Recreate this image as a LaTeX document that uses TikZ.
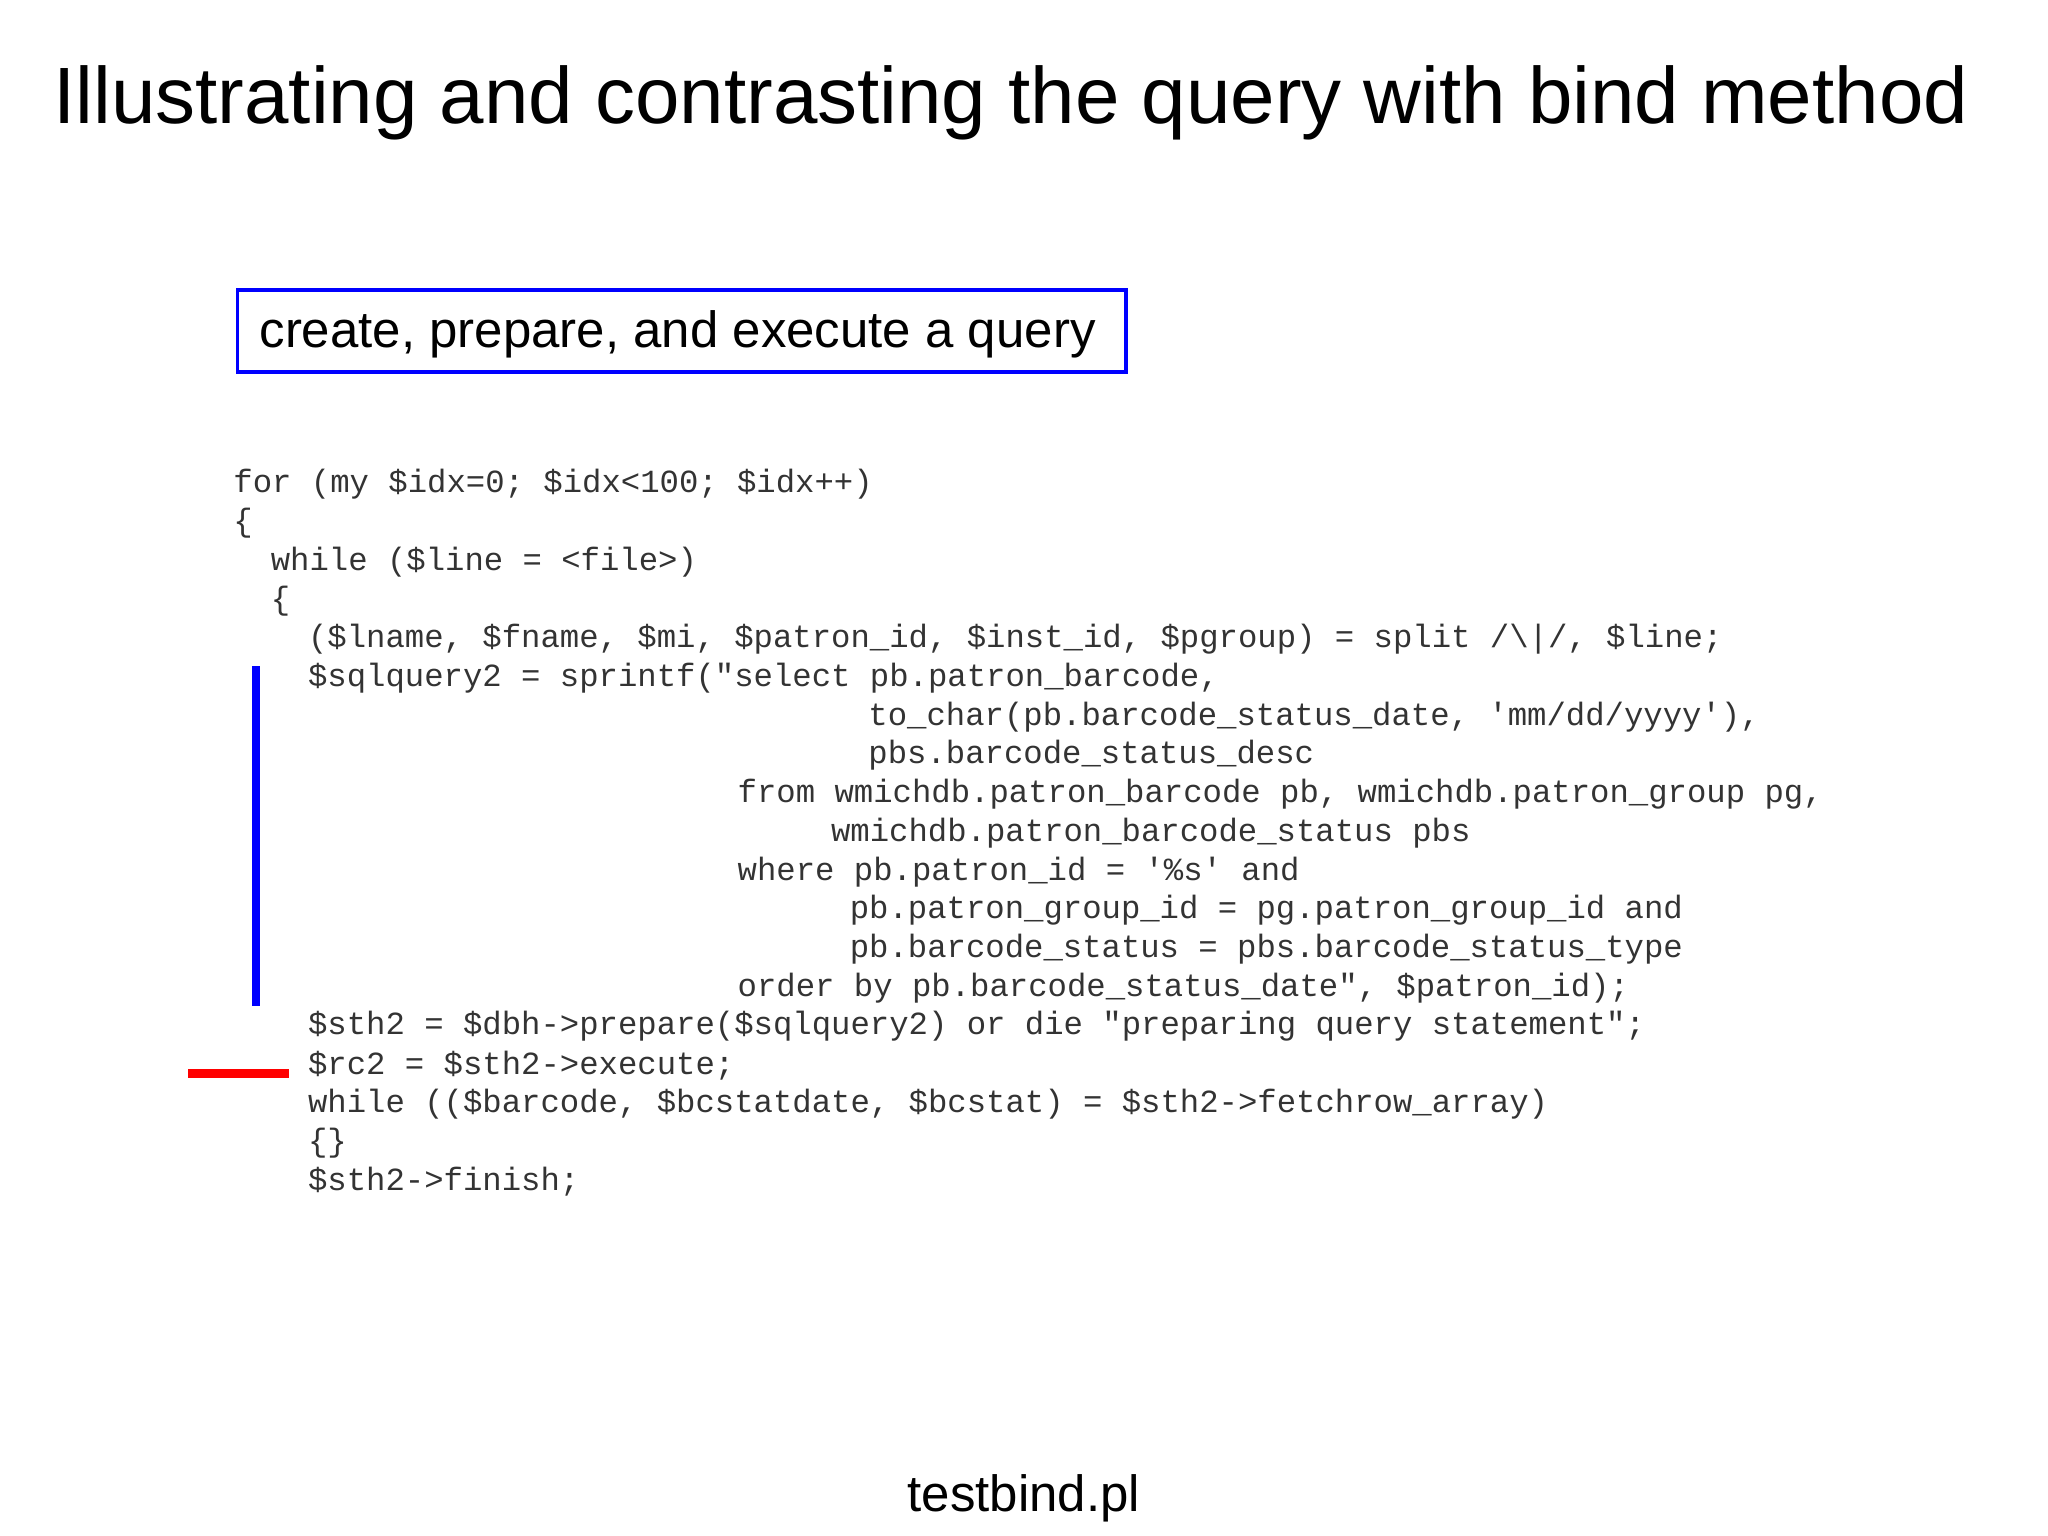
\documentclass[tikz,border=0pt]{standalone}
\usepackage{fontspec}
\setmainfont{Liberation Sans}
\setmonofont{Liberation Mono}
\begin{document}
\begin{tikzpicture}[x=0.01cm,y=-0.01cm,
  code/.style={anchor=west,inner sep=0pt,font=\fontsize{7.03pt}{8pt}\ttfamily,text=black!80},
  label/.style={font=\fontsize{11.1pt}{13pt}\selectfont}]
\useasboundingbox (0,0) rectangle (1568,1176);
\node[font=\fontsize{17.4pt}{20pt}\selectfont] (title) at (774,79) {Illustrating and contrasting the query with bind method};
\node[draw=blue,line width=0.8pt,minimum width=6.8cm,minimum height=0.63cm,inner sep=0pt] (box) at (522,253.5) {};
\node[label,anchor=west,inner sep=0pt] (boxtext) at (198,256) {create, prepare, and execute a query};
\def\cw{14.3}
\newcommand\cl[3]{\node[code] (#1) at ({178+#2*\cw},#1*29.64+371) {#3};}
\cl{0}{0}{for (my \$idx=0; \$idx<100; \$idx++)}
\cl{1}{0}{\{}
\cl{2}{2}{while (\$line = <file>)}
\cl{3}{2}{\{}
\cl{4}{4}{(\$lname, \$fname, \$mi, \$patron\_id, \$inst\_id, \$pgroup) = split /\textbackslash|/, \$line;}
\cl{5}{4}{\$sqlquery2 = sprintf("select pb.patron\_barcode,}
\cl{6}{34}{to\_char(pb.barcode\_status\_date, 'mm/dd/yyyy'),}
\cl{7}{34}{pbs.barcode\_status\_desc}
\cl{8}{27}{from wmichdb.patron\_barcode pb, wmichdb.patron\_group pg,}
\cl{9}{32}{wmichdb.patron\_barcode\_status pbs}
\cl{10}{27}{where pb.patron\_id = '\%s' and}
\cl{11}{33}{pb.patron\_group\_id = pg.patron\_group\_id and}
\cl{12}{33}{pb.barcode\_status = pbs.barcode\_status\_type}
\cl{13}{27}{order by pb.barcode\_status\_date", \$patron\_id);}
\cl{14}{4}{\$sth2 = \$dbh->prepare(\$sqlquery2) or die "preparing query statement";}
\cl{15}{4}{\$rc2 = \$sth2->execute;}
\cl{16}{4}{while ((\$barcode, \$bcstatdate, \$bcstat) = \$sth2->fetchrow\_array)}
\cl{17}{4}{\{\}}
\cl{18}{4}{\$sth2->finish;}
\coordinate (b1) at (196,510); \coordinate (b2) at (196,770);
\draw[blue,line width=1.6pt] (b1) -- (b2);
\coordinate (r1) at (144,822); \coordinate (r2) at (221,822);
\draw[red,line width=1.8pt] (r1) -- (r2);
\node[label] (file) at (784,1147) {testbind.pl};
\end{tikzpicture}
\end{document}
